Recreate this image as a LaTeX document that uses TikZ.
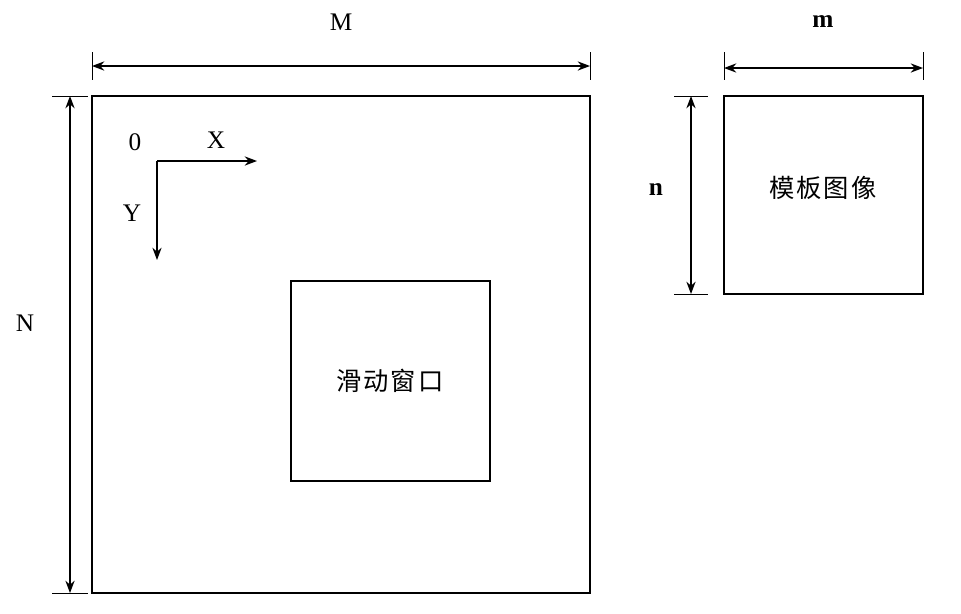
\documentclass[tikz,border=0pt]{standalone}
\usepackage{fontspec}
\setmainfont{Liberation Serif}
\newfontfamily\cjk[LetterSpace=8]{Noto Sans CJK SC}
\usetikzlibrary{arrows.meta}
\tikzset{
  dimline/.style={thick, {Stealth[length=7pt]}-{Stealth[length=7pt]}},
  tickline/.style={thin},
  frame/.style={draw, thick},
  lbl/.style={font=\Large}
}
\begin{document}
\begin{tikzpicture}[x=0.02cm, y=-0.02cm]
        \useasboundingbox (0,0) rectangle (961,613);
        % Source image and window
        \draw[frame] (92,96) rectangle (590,593);
        \draw[frame] (291,281) rectangle (490,481);
        \node[font=\cjk\Large] (win) at (390,381) {滑动窗口};
        % Template image
        \draw[frame] (724,96) rectangle (923,294);
        \node[font=\cjk\Large] (tpl) at (823,188) {模板图像};
        % Axes
        \coordinate (O) at (157,161);
        \coordinate (Xend) at (257,161);
        \coordinate (Yend) at (157,260);
        \draw[thick, -{Stealth[length=7pt]}] (O) -- (Xend);
        \draw[thick, -{Stealth[length=7pt]}] (O) -- (Yend);
        \node[lbl] (zero) at (135,142) {0};
        \node[lbl] (xl) at (216,140) {X};
        \node[lbl] (yl) at (132,213) {Y};
        % Dimensions of the source image
        \draw[tickline] (92,52) -- (92,80);
        \draw[tickline] (590,52) -- (590,80);
        \draw[dimline] (92,66) -- (590,66);
        \node[lbl] (M) at (341,22) {M};
        \draw[tickline] (52,96) -- (88,96);
        \draw[tickline] (52,593) -- (88,593);
        \draw[dimline] (70,96) -- (70,593);
        \node[lbl] (N) at (25,323) {N};
        % Dimensions of the template
        \draw[tickline] (724,52) -- (724,80);
        \draw[tickline] (923,52) -- (923,80);
        \draw[dimline] (724,68) -- (923,68);
        \node[lbl, font=\Large\bfseries] (m) at (823,22) {m};
        \draw[tickline] (674,96) -- (708,96);
        \draw[tickline] (674,294) -- (708,294);
        \draw[dimline] (691,96) -- (691,294);
        \node[lbl, font=\Large\bfseries] (n) at (656,190) {n};
\end{tikzpicture}
\end{document}
